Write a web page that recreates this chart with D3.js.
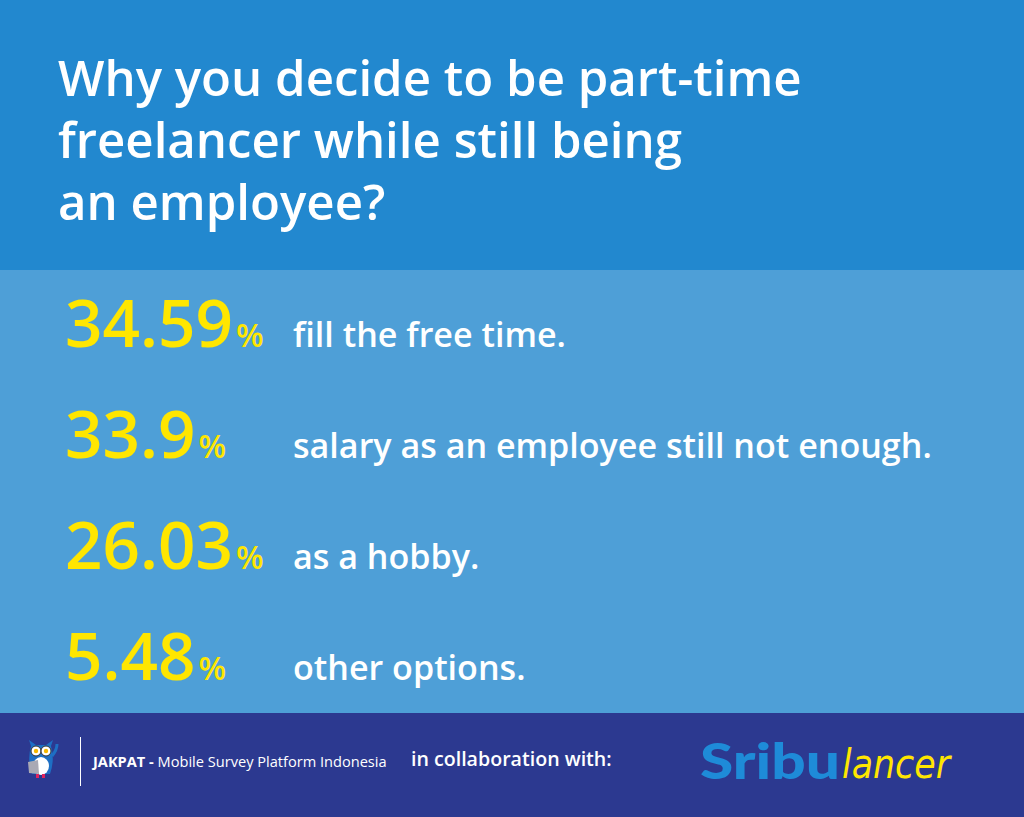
<!DOCTYPE html>
<html>
<head>
<meta charset="utf-8">
<script src="https://cdn.jsdelivr.net/npm/d3@7"></script>
<style>
  html, body { margin: 0; padding: 0; background: #2c3990; }
  svg { display: block; }
</style>
</head>
<body>
<script>
"use strict";

// survey values
const percents = [34.59, 33.9, 26.03, 5.48];
const reasons = [
    "fill the free time.",
    "salary as an employee still not enough.",
    "as a hobby.",
    "other options."
];
const titleLines = [
    "Why you decide to be part-time",
    "freelancer while still being",
    "an employee?"
];

const width = 1024, height = 817;
const font = "'Open Sans', 'Noto Sans', sans-serif";

const svg = d3.select("body").append("svg")
    .attr("width", width)
    .attr("height", height);

// background bands
svg.append("rect").attr("width", width).attr("height", 270).attr("fill", "#2288cf");
svg.append("rect").attr("y", 270).attr("width", width).attr("height", 443).attr("fill", "#4e9fd7");
svg.append("rect").attr("y", 713).attr("width", width).attr("height", 104).attr("fill", "#2c3990");

// scale a text so its width hits a target
function fitSize(sel, base, target) {
    sel.style("font-size", base + "px");
    const w = sel.node().getComputedTextLength();
    const s = base * target / w;
    sel.style("font-size", s + "px");
    return s;
}

// title
const titleY = d3.scalePoint().domain(d3.range(titleLines.length)).range([96, 220]);
const title = svg.append("g").selectAll("text")
    .data(titleLines)
    .enter().append("text")
    .attr("x", 58)
    .attr("y", (d, i) => titleY(i))
    .attr("fill", "#fff")
    .style("font-family", font)
    .style("font-weight", 600)
    .text(d => d);
const titleSize = fitSize(d3.select(title.nodes()[0]), 50, 744);
title.style("font-size", titleSize + "px");

// rows
const rowY = d3.scalePoint()
    .domain(d3.range(percents.length))
    .range([270, 713])
    .padding(0.5);
const fmt = d => String(d);

const rows = svg.append("g").selectAll("g")
    .data(percents)
    .enter().append("g")
    .attr("transform", (d, i) => "translate(0," + rowY(i) + ")");

const nums = rows.append("text")
    .attr("x", 65)
    .attr("y", 22)
    .attr("fill", "#ffe600")
    .style("font-family", font)
    .style("font-weight", 600)
    .text(d => fmt(d));
const numSize = fitSize(d3.select(nums.nodes()[0]), 60, 168);
nums.style("font-size", numSize + "px");

rows.append("text")
    .attr("x", function (d, i) { return 65 + nums.nodes()[i].getComputedTextLength() + 3; })
    .attr("y", 22)
    .attr("fill", "#ffe600")
    .style("font-family", font)
    .style("font-weight", 600)
    .style("font-size", "32px")
    .text("%");

const desc = rows.append("text")
    .attr("x", 293)
    .attr("y", 22)
    .attr("fill", "#fff")
    .style("font-family", font)
    .style("font-weight", 600)
    .text((d, i) => reasons[i]);
const descSize = fitSize(d3.select(desc.nodes()[1]), 32, 639);
desc.style("font-size", descSize + "px");

// footer
const foot = svg.append("g");

// owl
const owl = foot.append("g").attr("transform", "translate(41,760)");
owl.append("path")
    .attr("d", "M-10,-14 L-12,-20 L-5,-15 L5,-15 L12,-20 L10,-14 Q14,0 9,14 L-9,14 Q-14,0 -10,-14 Z")
    .attr("fill", "#1e6fc4");
owl.append("ellipse").attr("cx", 0).attr("cy", 6).attr("rx", 8).attr("ry", 9).attr("fill", "#fff");
owl.append("path").attr("d", "M-13,2 L-3,0 L-2,14 L-12,13 Z").attr("fill", "#a9a9b4");
[-5, 5].forEach(cx => {
    owl.append("circle").attr("cx", cx).attr("cy", -9).attr("r", 5).attr("fill", "#fff").attr("stroke", "#333").attr("stroke-width", 1);
    owl.append("circle").attr("cx", cx).attr("cy", -9).attr("r", 2.2).attr("fill", "#f5b800");
});
owl.append("path").attr("d", "M11,-4 Q16,-10 16,-16").attr("stroke", "#1e6fc4").attr("stroke-width", 3).attr("fill", "none");
owl.append("rect").attr("x", -5).attr("y", 14).attr("width", 3).attr("height", 4).attr("fill", "#e0245e");
owl.append("rect").attr("x", 1).attr("y", 14).attr("width", 3).attr("height", 4).attr("fill", "#e0245e");

foot.append("line")
    .attr("x1", 80.5).attr("x2", 80.5)
    .attr("y1", 737).attr("y2", 786)
    .attr("stroke", "#fff").attr("stroke-width", 1);

const jak = foot.append("text")
    .attr("x", 93).attr("y", 767)
    .attr("fill", "#fff")
    .style("font-family", font)
    .style("font-size", "14.6px");
jak.append("tspan").style("font-weight", 700).text("JAKPAT - ");
jak.append("tspan").text("Mobile Survey Platform Indonesia");

foot.append("text")
    .attr("x", 411).attr("y", 766)
    .attr("fill", "#fff")
    .style("font-family", font)
    .style("font-weight", 600)
    .style("font-size", "19.6px")
    .text("in collaboration with:");

// sribulancer wordmark
foot.append("text")
    .attr("x", 700).attr("y", 779)
    .attr("fill", "#1e8bd8")
    .style("font-family", "Lato, sans-serif")
    .style("font-weight", 900)
    .style("font-size", "50px")
    .attr("textLength", 140)
    .attr("lengthAdjust", "spacingAndGlyphs")
    .text("Sribu");
foot.append("text")
    .attr("x", 842).attr("y", 778)
    .attr("fill", "#ffe600")
    .style("font-family", "'DejaVu Sans', sans-serif")
    .style("font-style", "italic")
    .style("font-weight", 300)
    .style("font-size", "40px")
    .attr("textLength", 108)
    .attr("lengthAdjust", "spacingAndGlyphs")
    .text("lancer");
</script>
</body>
</html>
